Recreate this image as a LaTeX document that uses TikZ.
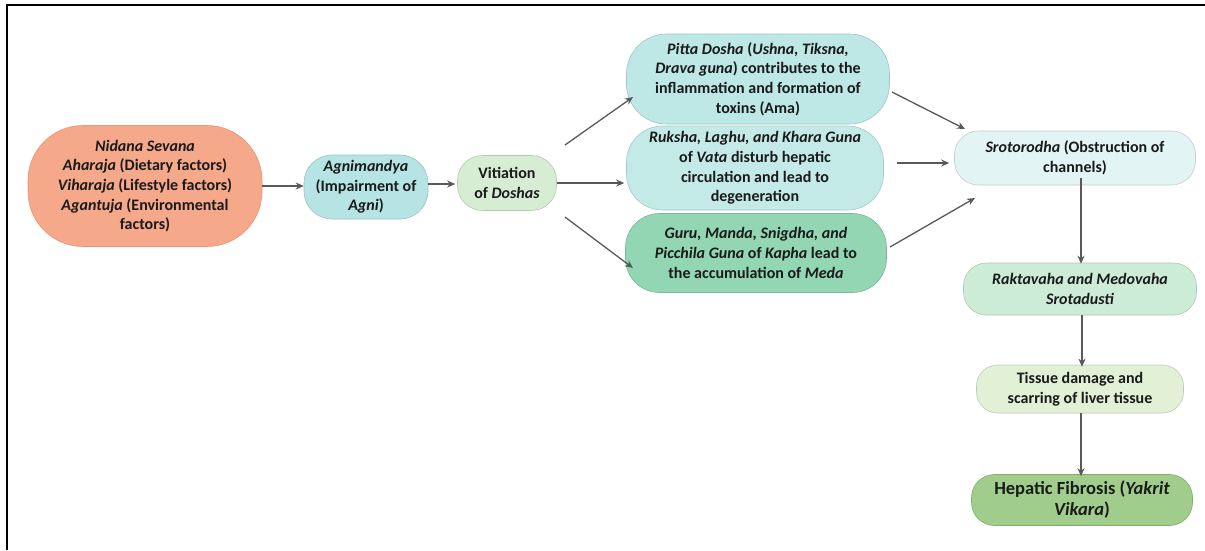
\documentclass[tikz,border=0pt]{standalone}
\usepackage{fontspec}
\setmainfont{Carlito}
\usetikzlibrary{arrows.meta}
\definecolor{cNid}{RGB}{245,168,138}
\definecolor{cNidB}{RGB}{232,150,115}
\definecolor{cAgn}{RGB}{182,228,228}
\definecolor{cVit}{RGB}{214,237,212}
\definecolor{cPit}{RGB}{190,232,230}
\definecolor{cRuk}{RGB}{196,234,232}
\definecolor{cGur}{RGB}{146,214,180}
\definecolor{cSro}{RGB}{226,244,244}
\definecolor{cRak}{RGB}{204,236,216}
\definecolor{cTis}{RGB}{226,240,214}
\definecolor{cHep}{RGB}{160,205,140}
\definecolor{cHepB}{RGB}{125,175,105}
\definecolor{cArr}{RGB}{89,89,89}
\definecolor{cTxt}{RGB}{26,26,26}
\tikzset{
  box/.style={draw=#1!85!black, fill=#1, line width=0.6pt, inner sep=0pt, align=center,
    text=cTxt, font=\bfseries\fontsize{16}{19.7}\selectfont},
  arr/.style={draw=cArr, line width=1.3pt, -{Stealth[length=8pt,width=7pt]}},
}
\begin{document}
\begin{tikzpicture}[x=1pt,y=-1pt]
\useasboundingbox (0,0) rectangle (1205,550);
\fill[white] (0,0) rectangle (1205,550);
\draw[line width=2pt, black] (7,550) -- (7,5) -- (1205,5);

\node[box=cNid, draw=cNidB, minimum width=234pt, minimum height=121pt, rounded corners=55pt] (nid) at (145,186)
  {\itshape Nidana Sevana\\ \itshape Aharaja\upshape{} (Dietary factors)\\ \itshape Viharaja\upshape{} (Lifestyle factors)\\ \itshape Agantuja\upshape{} (Environmental\\ factors)};
\node[box=cAgn, minimum width=124pt, minimum height=64pt, rounded corners=28pt] (agn) at (366,187)
  {\itshape Agnimandya\\ (Impairment of\\ \itshape Agni\upshape)};
\node[box=cVit, minimum width=99pt, minimum height=55pt, rounded corners=25pt] (vit) at (507,183)
  {Vitiation\\ of \itshape Doshas};
\node[box=cPit, minimum width=263pt, minimum height=90pt, rounded corners=40pt] (pit) at (758,79)
  {\itshape Pitta Dosha\upshape{} (\itshape Ushna, Tiksna,\\ \itshape Drava guna\upshape) contributes to the\\ inflammation and formation of\\ toxins (Ama)};
\node[box=cRuk, minimum width=257pt, minimum height=84pt, rounded corners=36pt] (ruk) at (755,168)
  {\itshape Ruksha, Laghu, and Khara Guna\\ of \itshape Vata\upshape{} disturb hepatic\\ circulation and lead to\\ degeneration};
\node[box=cGur, minimum width=261pt, minimum height=79pt, rounded corners=34pt] (gur) at (756,253)
  {\itshape Guru, Manda, Snigdha, and\\ \itshape Picchila Guna\upshape{} of \itshape Kapha\upshape{} lead to\\ the accumulation of \itshape Meda};
\node[box=cSro, minimum width=241pt, minimum height=54pt, rounded corners=24pt] (sro) at (1075,158)
  {\itshape Srotorodha\upshape{} (Obstruction of\\ channels)};
\node[box=cRak, minimum width=233pt, minimum height=52pt, rounded corners=23pt] (rak) at (1080,289)
  {\itshape Raktavaha and Medovaha\\ \itshape Srotadusti};
\node[box=cTis, minimum width=207pt, minimum height=48pt, rounded corners=21pt] (tis) at (1080,389)
  {Tissue damage and\\ scarring of liver tissue};
\node[box=cHep, draw=cHepB, minimum width=221pt, minimum height=51pt, rounded corners=23pt,
  font=\bfseries\fontsize{18.5}{21}\selectfont] (hep) at (1082,500)
  {Hepatic Fibrosis (\itshape Yakrit\\ \itshape Vikara\upshape)};

\coordinate (nidE) at (262,186);
\coordinate (agnW) at (302,186);
\draw[arr] (nid.east |- nidE) -- (agn.west |- agnW);
\draw[arr] (agn.east |- 0,184) -- ([xshift=-2pt]vit.west |- 0,184);
\coordinate (v1) at (565,145);
\coordinate (p1) at (633,97);
\draw[arr] (v1) -- (p1);
\draw[arr] (vit.east |- 0,183) -- ([xshift=-2pt]ruk.west |- 0,183);
\coordinate (v3) at (565,217);
\coordinate (g1) at (633,268);
\draw[arr] (v3) -- (g1);
\coordinate (p2) at (892,92);
\coordinate (s1) at (965,129);
\draw[arr] (p2) -- (s1);
\coordinate (r2) at (897,163);
\draw[arr] (r2) -- ([xshift=-5pt]sro.west |- r2);
\coordinate (g2) at (890,247);
\coordinate (s3) at (975,198);
\draw[arr] (g2) -- (s3);
\draw[arr] ([yshift=7pt]sro.south -| 1081,0) -- ([yshift=-1pt]rak.north -| 1081,0);
\draw[arr] (rak.south -| 1082,0) -- ([yshift=-2pt]tis.north -| 1082,0);
\draw[arr] (tis.south -| 1081,0) -- ([yshift=-2pt]hep.north -| 1081,0);
\end{tikzpicture}
\end{document}
